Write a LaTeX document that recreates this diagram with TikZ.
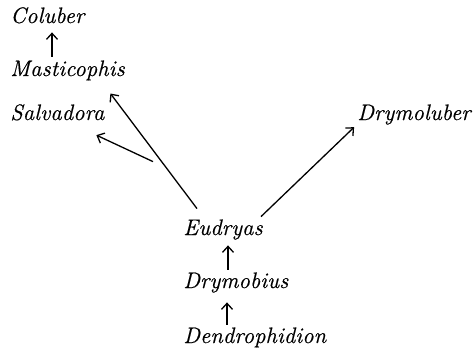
\documentclass[tikz,border=0pt]{standalone}
\usepackage{fontspec}
\usepackage{tikz}
\usetikzlibrary{arrows.meta}
\newfontfamily\genusfont{Latin Modern Roman}[LetterSpace=1,FakeBold=0.6]

\begin{document}
\begin{tikzpicture}[x=0.5pt,y=-0.5pt,
		genus/.style={anchor=base west,inner sep=0pt,text height=7.5pt,text depth=2pt,
			font=\genusfont\fontsize{11.2}{13}\selectfont\itshape},
		branch/.style={line width=0.65pt,-{Straight Barb[length=3pt,width=5.5pt]}}]
		\useasboundingbox (0,0) rectangle (473,350);
%		\draw[help lines] (0,0) grid[step=50] (473,350);
		\path (10,23) node(coluber) [genus] {Coluber};
		\path (10,76) node(masticophis) [genus] {Masticophis};
		\path (10,120) node(salvadora) [genus] {Salvadora};
		\path (357,120) node(drymoluber) [genus] {Drymoluber};
		\path (183,235) node(eudryas) [genus] {Eudryas};
		\path (183,288) node(drymobius) [genus] {Drymobius};
		\path (183,343) node(dendrophidion) [genus] {Dendrophidion};
		\path (eudryas.north west) ++(14,-11) coordinate (mast_base);
		\path (eudryas.north west) ++(-30,-58) coordinate (salv_base);
		\path (eudryas.north west) ++(78,-3) coordinate (dryl_base);

		\draw[branch,shorten <=2pt,shorten >=2.5pt] ([xshift=21pt]masticophis.north west) -- ([xshift=21pt]coluber.south west);
		\draw[branch,shorten <=1.5pt,shorten >=3pt] ([xshift=22.5pt]drymobius.north west) -- ([xshift=22.5pt]eudryas.south west);
		\draw[branch,shorten <=1.5pt,shorten >=5pt] ([xshift=22pt]dendrophidion.north west) -- ([xshift=22pt]drymobius.south west);
		\draw[branch,shorten >=8.2pt] (mast_base) -- ([xshift=16.5pt]masticophis.south);
		\draw[branch,shorten >=12.7pt] (salv_base) -- ([xshift=8pt]salvadora.south);
		\draw[branch,shorten >=2pt] (dryl_base) -- (drymoluber.south west);
	\end{tikzpicture}
\end{document}
